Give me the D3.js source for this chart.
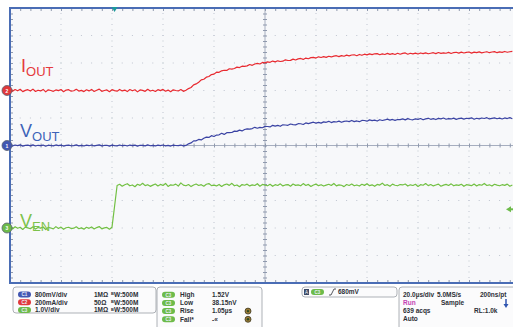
<!DOCTYPE html>
<html>
<head>
<meta charset="utf-8">
<script src="https://cdn.jsdelivr.net/npm/d3@7"></script>
<style>
body{margin:0;background:#fff}
svg{display:block;font-family:"Liberation Sans",Arial,sans-serif}
</style>
</head>
<body>
<div id="scope"></div>
<script>
// record kept at 1us per point, starting 40us before the trigger (20us/div)
const timeStart = -40, timeStep = 1

// C2, output current (mA)
const iout = [
  3,-5,7,-2,9,-8,1,6,-4,10,
  -7,2,-3,8,-10,5,0,-6,4,-1,
  7,-9,3,6,-5,-2,9,-4,1,-8,
  5,-3,8,-7,2,10,-6,0,4,-9,
  6,-1,-5,8,-3,3,-8,7,-2,5,
  -10,4,1,-6,9,-4,2,-7,6,-1,
  8,-5,3,-9,5,0,-3,7,-6,2,
  14,22,41,48,60,77,82,97,102,116,
  119,133,132,143,147,146,158,156,160,170,
  167,177,175,179,189,183,193,197,193,204,
  201,208,205,214,208,216,211,213,223,218,
  219,228,222,230,233,226,236,231,239,241,
  236,245,240,246,241,249,244,250,253,246,
  254,249,257,252,258,260,253,262,256,264,
  259,266,261,267,268,260,266,262,270,263,
  268,262,271,264,270,273,264,271,266,272,
  265,273,268,274,267,271,275,268,276,270,
  274,271,277,269,276,278,272,279,273,277,
  280,272,279,275,281,274,278,282,275,280,
  283,275,281,277,284,278,282,285
]

// C1, output voltage (mV)
const vout = [
  8,-12,15,-5,20,-18,3,11,-9,17,
  -14,6,-2,13,-20,9,0,-11,16,-4,
  12,-16,5,10,-8,-3,18,-10,2,-15,
  9,-6,14,-13,4,19,-12,1,7,-17,
  11,-3,-9,15,-6,6,-14,13,-4,10,
  -19,8,2,-11,17,-8,4,-13,12,-2,
  15,-9,5,-16,10,0,-6,13,-11,3,
  48,75,135,137,177,163,210,243,235,287,
  262,303,310,355,323,372,376,378,418,411,
  448,424,465,484,474,493,529,503,529,517,
  557,553,541,587,562,584,559,602,597,588,
  625,606,599,634,632,611,657,638,660,678,
  652,674,650,688,675,703,667,694,683,709,
  675,702,713,695,728,695,714,693,729,727,
  708,746,725,739,711,750,727,743,766,737,
  758,730,757,751,773,745,781,756,748,776,
  761,786,748,776,791,762,781,755,789,774,
  799,764,784,772,796,760,784,795,766,793,
  780,805,762,793,776,801,785,809,773,791,
  805,779,797,771,802,784,810,777
]

// C3, enable voltage (mV)
const ven = [
  12,-35,48,-10,25,-52,30,5,-28,44,
  -40,18,-6,37,-55,22,0,-31,50,-15,
  33,-47,9,28,-20,-8,45,-26,4,-42,
  26,-12,39,-36,15,52,-30,6,20,-45,
  30,780,
  1545,1590,1520,1575,1610,1535,1565,1500,1590,1550,
  1625,1540,1575,1515,1560,1600,1530,1585,1545,1620,
  1510,1570,1555,1595,1525,1640,1560,1535,1580,1505,
  1565,1600,1545,1575,1520,1590,1615,1540,1560,1530,
  1585,1510,1570,1600,1550,1625,1535,1565,1500,1580,
  1555,1595,1530,1570,1545,1610,1520,1585,1560,1535,
  1590,1515,1575,1545,1605,1530,1565,1580,1520,1600,
  1550,1570,1535,1615,1545,1585,1510,1565,1595,1540,
  1575,1525,1560,1590,1545,1620,1530,1570,1555,1505,
  1580,1545,1600,1535,1565,1525,1590,1550,1610,1540,
  1570,1515,1585,1560,1630,1545,1575,1520,1595,1555,
  1535,1580,1565,1600,1525,1570,1545,1590,1510,1575,
  1555,1615,1540,1580,1530,1565,1595,1520,1560,1585,
  1545,1605,1535,1570,1550,1590,1515,1575,1560,1540,
  1600,1530,1580,1555,1620,1545,1570,1525,1590,1560,
  1535,1575,1550,1595,1520,1565
]

// channel setup: units per division and ground position (divisions from centre)
const chNames = ["C1", "C2", "C3"]
const chPerDiv = [800, 200, 1000]
const chPos = [0, 2, -3]
const chScaleText = ["800mV/div", "200mA/div", "1.0V/div"]
const chTermText = ["1M\u03A9", "50\u03A9", "1M\u03A9"]
const measNames = ["High", "Low", "Rise", "Fall*"]
const measValues = ["1.52V", "38.15nV", "1.05\u00B5s", "-\u00AB"]
const triggerTime = 1, triggerLevel = 680
const acqLines = [["20.0\u00B5s/div", "5.0MS/s", "200ns/pt"], ["Run", "Sample", ""], ["639 acqs", "", "RL:1.0k"], ["Auto", "", ""]]

const W = 513, H = 327
const red = "#e82a30", blue = "#3a43a3", green = "#72c043"
const chColor = [blue, red, green]
const chBadge = ["#4257b2", "#e0393c", "#6dbb4a"]

const x = d3.scaleLinear().domain([-40, 160]).range([10, 520])
const yDiv = d3.scaleLinear().domain([-5, 5]).range([283, 8])

const svg = d3.select("#scope").append("svg").attr("width", W).attr("height", H)
svg.append("rect").attr("width", W).attr("height", H).attr("fill", "#fff")

// graticule
svg.append("rect").attr("x", 10).attr("y", 8).attr("width", 510).attr("height", 275).attr("fill", "#f7f8fa")

let xMinor = d3.range(-40, 160.01, 4)
let yMinor = d3.range(-5, 5.01, 0.2)
let xMajor = d3.range(-20, 141, 20).filter(v => v != 60)
let yMajor = d3.range(-4, 4.01, 1).filter(v => v != 0)
let dots = svg.append("g").attr("fill", "#bfc5d0")
xMajor.forEach(t => {
  dots.selectAll(null).data(yMinor).enter().append("rect")
    .attr("x", x(t) - 0.5).attr("y", d => yDiv(d) - 0.5).attr("width", 1).attr("height", 1)
})
yMajor.forEach(v => {
  dots.selectAll(null).data(xMinor).enter().append("rect")
    .attr("x", d => x(d) - 0.5).attr("y", yDiv(v) - 0.5).attr("width", 1).attr("height", 1)
})

function ticks(g) {
  g.select(".domain").remove()
  g.selectAll("text").remove()
  g.selectAll("line").attr("stroke", "#8f99ad")
}
// centre cross
svg.append("line").attr("x1", 10).attr("x2", 520).attr("y1", yDiv(0)).attr("y2", yDiv(0)).attr("stroke", "#a6aebf")
svg.append("line").attr("x1", x(60)).attr("x2", x(60)).attr("y1", 8).attr("y2", 283).attr("stroke", "#a6aebf")
svg.append("g").attr("transform", `translate(0,${yDiv(0) - 2})`)
  .call(d3.axisBottom(x).tickValues(xMinor).tickSize(4)).call(ticks)
svg.append("g").attr("transform", `translate(${x(60) - 2},0)`)
  .call(d3.axisRight(yDiv).tickValues(yMinor).tickSize(4)).call(ticks)
// edge ticks
svg.append("g").attr("transform", "translate(0,8)")
  .call(d3.axisBottom(x).tickValues(xMinor).tickSize(3)).call(ticks)
svg.append("g").attr("transform", "translate(0,283)")
  .call(d3.axisTop(x).tickValues(xMinor).tickSize(3)).call(ticks)
svg.append("g").attr("transform", "translate(10,0)")
  .call(d3.axisRight(yDiv).tickValues(yMinor).tickSize(3)).call(ticks)

// border
svg.append("path").attr("d", "M520,8H10V283H520").attr("fill", "none").attr("stroke", "#4a6db5").attr("stroke-width", 2)

// traces
let series = [vout, iout, ven]
series.forEach((vals, c) => {
  let line = d3.line()
    .x((d, i) => x(timeStart + i * timeStep))
    .y(d => yDiv(d / chPerDiv[c] + chPos[c]))
  svg.append("path").attr("d", line(vals)).attr("fill", "none")
    .attr("stroke", chColor[c]).attr("stroke-width", 1.2).attr("stroke-linejoin", "round")
})

// trace labels
function label(x0, y0, main, sub, color) {
  let t = svg.append("text").attr("x", x0).attr("y", y0).attr("fill", color).attr("font-size", 18)
  t.append("tspan").text(main)
  t.append("tspan").attr("font-size", 13).attr("dy", 4).text(sub)
}
label(21, 72, "I", "OUT", "#e53a3d")
label(20, 137, "V", "OUT", "#3d63b8")
label(20, 227, "V", "EN", "#7cc24b")

// ground markers
;[1, 0, 2].forEach(c => {
  let cy = yDiv(chPos[c])
  svg.append("path").attr("d", `M9,${cy - 3}L14,${cy}L9,${cy + 3}Z`).attr("fill", chBadge[c])
  svg.append("circle").attr("cx", 7).attr("cy", cy).attr("r", 5).attr("fill", chBadge[c]).attr("stroke", "#5a6270").attr("stroke-width", 0.8)
  svg.append("text").attr("x", 7).attr("y", cy + 2).attr("text-anchor", "middle").attr("font-size", 5)
    .attr("fill", "#fff").attr("font-weight", "bold").text(c + 1)
})

// trigger position and level
let tx = x(triggerTime)
svg.append("path").attr("d", `M${tx - 3},7L${tx + 3},7L${tx},12Z`).attr("fill", "#1d9a9c")
let ty = yDiv(triggerLevel / chPerDiv[2] + chPos[2])
svg.append("path").attr("d", `M506,${ty}L511,${ty - 3}L511,${ty + 3}Z`).attr("fill", "#6dbb4a")
svg.append("line").attr("x1", 510).attr("x2", 513).attr("y1", ty).attr("y2", ty).attr("stroke", "#6dbb4a").attr("stroke-width", 2)

// readout panel
function box(x0, y0, w, h) {
  svg.append("rect").attr("x", x0).attr("y", y0).attr("width", w).attr("height", h).attr("rx", 3)
    .attr("fill", "#fbfbfc").attr("stroke", "#9b9ea4").attr("stroke-width", 0.8)
}
function badge(x0, cy, name, color) {
  svg.append("rect").attr("x", x0).attr("y", cy - 3).attr("width", 13).attr("height", 6).attr("rx", 3).attr("fill", color)
  svg.append("text").attr("x", x0 + 6.5).attr("y", cy + 1.8).attr("text-anchor", "middle").attr("font-size", 4.5)
    .attr("font-weight", "bold").attr("fill", "#e8f0ff").text(name)
}
function txt(x0, y0, s, color) {
  return svg.append("text").attr("x", x0).attr("y", y0).attr("font-size", 6.5).attr("font-weight", "bold")
    .attr("fill", color || "#2c2f36").text(s)
}

box(13, 287, 143, 26)
chNames.forEach((n, i) => {
  let cy = 294.5 + i * 7.8
  badge(18, cy, n, chBadge[i])
  txt(35, cy + 2.3, chScaleText[i])
  txt(94, cy + 2.3, chTermText[i])
  let b = txt(111, cy + 2.3, "")
  b.append("tspan").attr("font-size", 4).attr("dy", -1.5).text("B")
  b.append("tspan").attr("dy", 1.5).text("W:500M")
})

box(157, 287, 105, 45)
measNames.forEach((n, i) => {
  let cy = 294.7 + i * 8.2
  badge(162, cy, "C3", chBadge[2])
  txt(180, cy + 2.3, n)
  txt(212, cy + 2.3, measValues[i])
  if (i >= 2) {
    svg.append("circle").attr("cx", 248).attr("cy", cy).attr("r", 3).attr("fill", "#9a7a35").attr("stroke", "#3f3a22").attr("stroke-width", 0.8)
    svg.append("circle").attr("cx", 248).attr("cy", cy).attr("r", 1.2).attr("fill", "#2d4a24")
  }
})

box(302, 287, 95, 10)
svg.append("rect").attr("x", 304).attr("y", 289).attr("width", 5).attr("height", 6).attr("fill", "#3c4a66")
svg.append("text").attr("x", 306.5).attr("y", 294).attr("text-anchor", "middle").attr("font-size", 4.5).attr("fill", "#fff").text("A")
badge(311, 292, "C3", chBadge[2])
svg.append("path").attr("d", "M329,295H331L334,289H336").attr("fill", "none").attr("stroke", "#2c2f36").attr("stroke-width", 0.8)
txt(338, 294.4, triggerLevel + "mV")

box(399, 287, 125, 45)
let colX = [403, 437, 480]
acqLines.forEach((row, r) => {
  row.forEach((s, k) => {
    if (!s) return
    let cx = colX[k]
    if (r == 1 && k == 1) cx = 441
    if (r == 2 && k == 2) cx = 474
    txt(cx, 297 + r * 8, s, r == 1 && k == 0 ? "#c43fb4" : null)
  })
})
svg.append("line").attr("x1", 506).attr("x2", 506).attr("y1", 299).attr("y2", 305).attr("stroke", "#2f55b0").attr("stroke-width", 1.5)
svg.append("path").attr("d", "M503.5,304L508.5,304L506,308Z").attr("fill", "#2f55b0")
</script>
</body>
</html>
